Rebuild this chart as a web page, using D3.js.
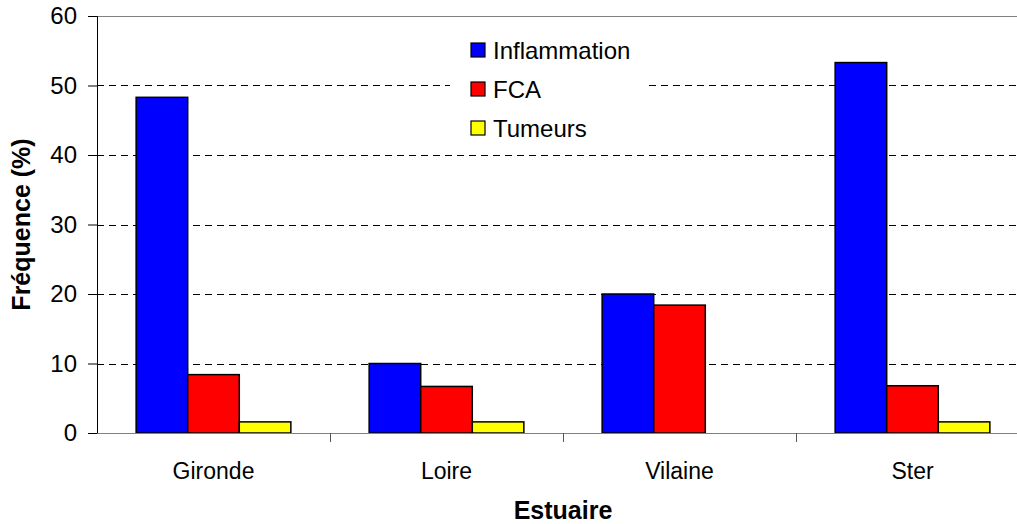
<!DOCTYPE html>
<html>
<head>
<meta charset="utf-8">
<script src="https://cdn.jsdelivr.net/npm/d3@7"></script>
<style>
  body { margin: 0; background: #fff; }
  svg text { font-family: "Liberation Sans", Arial, sans-serif; fill: #000; }
</style>
</head>
<body>
<div id="chart"></div>
<script>
// Estuaires et fréquences des lésions (%)
const estuaries = ['Gironde', 'Loire', 'Vilaine', 'Ster'];
const seriesNames = ['Inflammation', 'FCA', 'Tumeurs'];
const inflammation = [48.3, 10.0, 20.0, 53.3];
const fca = [8.4, 6.7, 18.4, 6.8];
const tumeurs = [1.6, 1.6, 0, 1.6];
const yTicks = [0, 10, 20, 30, 40, 50, 60];
const colors = ['#0000ff', '#ff0000', '#ffff00'];

const W = 1017, H = 524;
const margin = { top: 16, right: -12, bottom: 91, left: 97 };
const width = W - margin.left - margin.right;
const height = H - margin.top - margin.bottom;

const svg = d3.select('#chart').append('svg')
    .attr('width', W)
    .attr('height', H);

const g = svg.append('g')
    .attr('transform', `translate(${margin.left},${margin.top})`);

const rows = estuaries.map((name, i) => ({
    name,
    values: [inflammation[i], fca[i], tumeurs[i]]
}));

// Scales
const x0 = d3.scaleBand()
    .domain(estuaries)
    .range([0, width])
    .paddingInner(0)
    .paddingOuter(0);

const x1 = d3.scaleBand()
    .domain(seriesNames)
    .range([x0.bandwidth() * 0.168, x0.bandwidth() * 0.832]);

const y = d3.scaleLinear()
    .domain([0, 60])
    .range([height, 0]);

// Grid lines
g.selectAll('.grid')
    .data(yTicks.filter(d => d > 0))
    .enter()
    .append('line')
    .attr('x1', 0)
    .attr('x2', width)
    .attr('y1', d => Math.round(y(d)) + 0.5)
    .attr('y2', d => Math.round(y(d)) + 0.5)
    .attr('stroke', d => d === 60 ? '#808080' : '#000')
    .attr('stroke-width', 1)
    .attr('stroke-dasharray', d => d === 60 ? null : '7,5');

// Bars
const groups = g.selectAll('.grp')
    .data(rows)
    .enter()
    .append('g')
    .attr('transform', d => `translate(${x0(d.name)},0)`);

groups.selectAll('rect')
    .data(d => d.values.map((v, i) => ({ key: seriesNames[i], value: v, i })))
    .enter()
    .filter(d => d.value > 0)
    .append('rect')
    .attr('x', d => x1(d.key))
    .attr('y', d => y(d.value))
    .attr('width', x1.bandwidth())
    .attr('height', d => y(0) - y(d.value))
    .attr('fill', d => colors[d.i])
    .attr('stroke', '#000')
    .attr('stroke-width', 1.5);

// Axes
const yAxis = g.append('g')
    .call(d3.axisLeft(y).tickValues(yTicks).tickSize(9).tickPadding(11));
yAxis.select('.domain').attr('stroke', '#000');
yAxis.selectAll('.tick line').attr('stroke', '#000');
yAxis.selectAll('text')
    .style('font-size', '24px')
    .attr('fill', '#000');

const xAxis = g.append('g')
    .attr('transform', `translate(0,${height})`)
    .call(d3.axisBottom(x0).tickSize(0).tickPadding(30));
xAxis.select('.domain').attr('stroke', '#808080');
xAxis.selectAll('text')
    .style('font-size', '23px')
    .attr('fill', '#000');

// Category separator ticks
g.selectAll('.sep')
    .data(estuaries.slice(1))
    .enter()
    .append('line')
    .attr('x1', d => x0(d) + 0.5)
    .attr('x2', d => x0(d) + 0.5)
    .attr('y1', height)
    .attr('y2', height + 9)
    .attr('stroke', '#555');

// Axis titles
svg.append('text')
    .attr('transform', `translate(30,${margin.top + height / 2}) rotate(-90)`)
    .attr('text-anchor', 'middle')
    .style('font-size', '25px')
    .style('font-weight', 'bold')
    .text('Fréquence (%)');

svg.append('text')
    .attr('x', margin.left + width / 2)
    .attr('y', 519)
    .attr('text-anchor', 'middle')
    .style('font-size', '25px')
    .style('font-weight', 'bold')
    .text('Estuaire');

// Legend
const legend = svg.append('g')
    .attr('transform', 'translate(450,28)');

legend.append('rect')
    .attr('width', 196)
    .attr('height', 118)
    .attr('fill', '#fff');

seriesNames.forEach((name, i) => {
    const item = legend.append('g')
        .attr('transform', `translate(21,${15 + i * 39})`);
    item.append('rect')
        .attr('width', 14)
        .attr('height', 14)
        .attr('fill', colors[i])
        .attr('stroke', '#000')
        .attr('stroke-width', 1.2);
    item.append('text')
        .attr('x', 22)
        .attr('y', 16)
        .style('font-size', '24px')
        .text(name);
});
</script>
</body>
</html>
